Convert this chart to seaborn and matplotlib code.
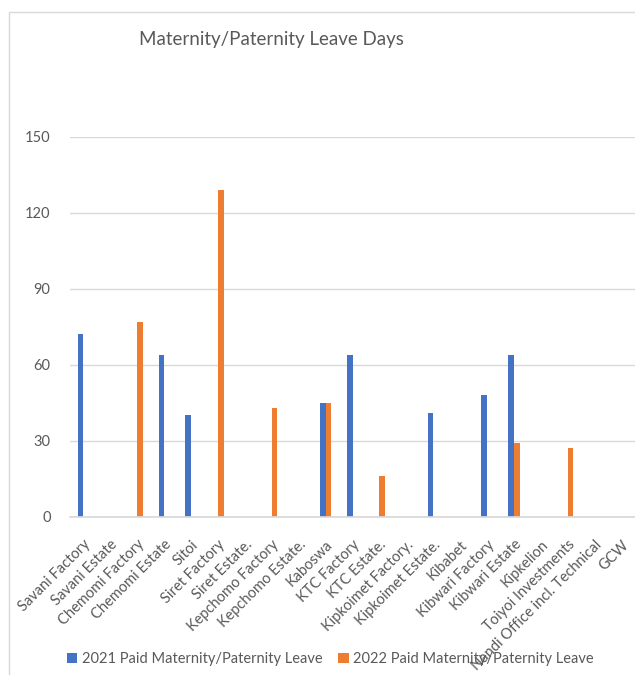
import matplotlib
matplotlib.use("Agg")
import matplotlib.pyplot as plt
import seaborn as sns
import pandas as pd
from matplotlib.patches import Rectangle

categories = ["Savani Factory", "Savani Estate", "Chemomi Factory", "Chemomi Estate", "Sitoi",
              "Siret Factory", "Siret Estate.", "Kepchomo Factory", "Kepchomo Estate.", "Kaboswa",
              "KTC Factory", "KTC Estate.", "Kipkoimet Factory.", "Kipkoimet Estate.", "Kibabet",
              "Kibwari Factory", "Kibwari Estate", "Kipkelion", "Toiyoi Investments",
              "Nandi Office incl. Technical", "GCW"]
values_2021 = [72, 0, 0, 64, 40, 0, 0, 0, 0, 45, 64, 0, 0, 41, 0, 48, 64, 0, 0, 0, 0]
values_2022 = [0, 0, 77, 0, 0, 129, 0, 43, 0, 45, 0, 16, 0, 0, 0, 0, 29, 0, 27, 0, 0]
series_names = ["2021 Paid Maternity/Paternity Leave", "2022 Paid Maternity/Paternity Leave"]
yticks = [0, 30, 60, 90, 120, 150]

df = pd.DataFrame({
    "category": categories * 2,
    "series": [series_names[0]] * len(categories) + [series_names[1]] * len(categories),
    "value": values_2021 + values_2022,
})

sns.set_theme(style="white")
plt.rcParams["font.family"] = ["Lato", "DejaVu Sans"]
text_color = "#595959"
grid_color = "#D9D9D9"

fig = plt.figure(figsize=(6.35, 6.75), dpi=100)
ax = fig.add_axes([70 / 635, 158.3 / 675, 565 / 635, 380 / 675])

sns.barplot(data=df, x="category", y="value", hue="series",
            palette=["#4472C4", "#ED7D31"], width=0.42, ax=ax, saturation=1,
            linewidth=0, edgecolor="none")

ax.set_ylim(0, 150)
ax.set_yticks(yticks)
ax.set_yticklabels([str(t) for t in yticks], color=text_color, fontsize=10.5)
ax.yaxis.grid(True, color=grid_color, linewidth=1)
ax.set_axisbelow(True)
ax.set_xlim(-0.5, len(categories) - 0.5)
ax.set_xlabel("")
ax.set_ylabel("")
ax.tick_params(axis="x", length=0, pad=15)
ax.tick_params(axis="y", length=0, pad=14)
for lbl in ax.get_xticklabels():
    lbl.set_rotation(45)
    lbl.set_ha("right")
    lbl.set_rotation_mode("anchor")
    lbl.set_color(text_color)
    lbl.set_fontsize(10.5)
for s in ["top", "right", "left"]:
    ax.spines[s].set_visible(False)
ax.spines["bottom"].set_color(grid_color)

sns.move_legend(ax, "lower left", bbox_to_anchor=(54 / 635, -4 / 675),
                bbox_transform=fig.transFigure, ncol=2, frameon=False, title=None,
                fontsize=10.5, handlelength=0.7, handleheight=0.7, handletextpad=0.3,
                columnspacing=1.1)
for t in ax.get_legend().get_texts():
    t.set_color(text_color)

fig.text(271 / 635, 635 / 675, "Maternity/Paternity Leave Days", ha="center", va="center",
         fontsize=13.5, color=text_color)

fig.patches.append(Rectangle((9 / 635, -0.1), 2, (675 - 12) / 675 + 0.1,
                             transform=fig.transFigure, fill=False,
                             edgecolor="#D9D9D9", linewidth=1))

fig.savefig("out.png", dpi=100)
